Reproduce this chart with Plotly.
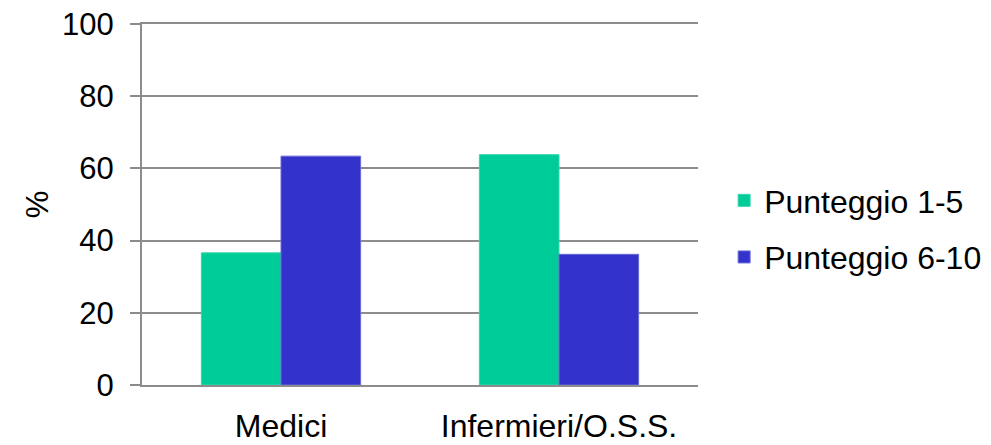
import plotly.graph_objects as go

categories = ["Medici", "Infermieri/O.S.S."]
series_names = ["Punteggio 1-5", "Punteggio 6-10"]
punteggio_1_5 = [36.6, 63.8]
punteggio_6_10 = [63.4, 36.2]
y_ticks = [0, 20, 40, 60, 80, 100]

FONT = "Liberation Sans, Arial, sans-serif"
GRID = "#8c8c8c"

fig = go.Figure()
fig.add_trace(go.Bar(
    x=categories, y=punteggio_1_5, name=series_names[0],
    marker=dict(color="#00CC99", line=dict(color="#33d6ad", width=1)),
    legendgroup="g1",
))
fig.add_trace(go.Bar(
    x=categories, y=punteggio_6_10, name=series_names[1],
    marker=dict(color="#3333CC", line=dict(color="#6a6ad6", width=1)),
    legendgroup="g2",
))

fig.update_layout(
    width=991, height=445,
    margin=dict(l=134, r=301, t=16, b=68, autoexpand=False),
    paper_bgcolor="white", plot_bgcolor="white",
    barmode="group", bargap=0.427, bargroupgap=0,
    font=dict(family=FONT, size=31, color="black"),
    showlegend=True,
    legend=dict(
        x=1.047, xanchor="left", y=0.432, yanchor="middle",
        font=dict(family=FONT, size=32, color="black"),
        tracegroupgap=12, bgcolor="rgba(0,0,0,0)",
    ),
    xaxis=dict(
        showline=True, linecolor=GRID, linewidth=2, mirror=True,
        ticks="", showgrid=False,
        tickfont=dict(family=FONT, size=32, color="black"),
        ticklabelstandoff=12,
        ticklabeloverflow="allow",
    ),
    yaxis=dict(
        range=[0, 100.0001], tickvals=y_ticks,
        showline=True, linecolor=GRID, linewidth=2,
        showgrid=True, gridcolor=GRID, gridwidth=2,
        ticks="outside", ticklen=10, tickcolor=GRID, tickwidth=2,
        tickfont=dict(family=FONT, size=31, color="black"),
        ticklabelstandoff=10,
        ticklabeloverflow="allow",
        zeroline=False,
        title=dict(text="%", font=dict(family=FONT, size=31, color="black"), standoff=4),
    ),
)

fig.write_html("out.html")
